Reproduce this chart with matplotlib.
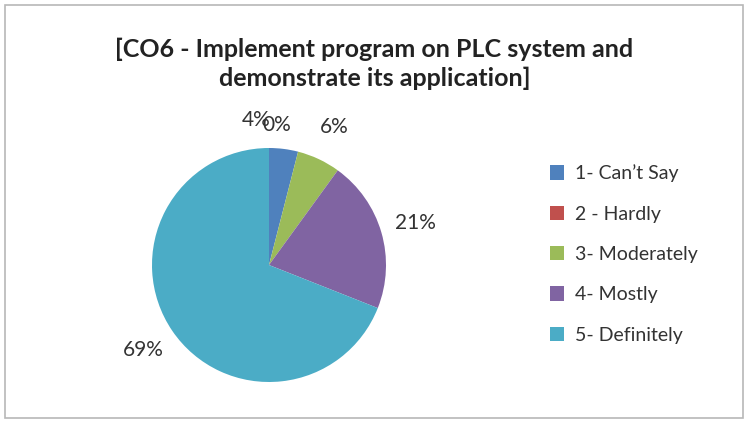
import numpy as np
import matplotlib.pyplot as plt
from matplotlib.patches import Rectangle

plt.rcParams['font.family'] = ['Lato', 'DejaVu Sans']

title = "[CO6 - Implement program on PLC system and\ndemonstrate its application]"
categories = ["1- Can\u2019t Say", "2 - Hardly", "3- Moderately", "4- Mostly", "5- Definitely"]
values = [4, 0, 6, 21, 69]
colors = ["#4F81BD", "#C0504D", "#9BBB59", "#8064A2", "#4BACC6"]

fig = plt.figure(figsize=(7.49, 4.23), dpi=100)

# chart border
fig.patches.append(Rectangle((5/749, 5/423), 738/749, 413/423, transform=fig.transFigure,
                             fill=False, edgecolor="#b8b8b8", linewidth=1.2))

fig.text(0.5, 1 - 64/423, title, ha="center", va="center", fontsize=18,
         fontweight="bold", color="#222222", linespacing=1.3)

cx, cy, r = 269, 265, 117
ax = fig.add_axes([(cx - r)/749, (423 - cy - r)/423, 2*r/749, 2*r/423])
wedges, texts, autotexts = ax.pie(values, colors=colors, startangle=90, counterclock=False,
                                  autopct=lambda p: f"{round(p)}%", pctdistance=1.3,
                                  wedgeprops=dict(linewidth=0),
                                  textprops=dict(fontsize=15, color="#333333"))
# excel crowds the two small labels together near the top
for t, ang, d in [(autotexts[0], 95, 1.24), (autotexts[1], 87, 1.2)]:
    t.set_position((d*np.cos(np.radians(ang)), d*np.sin(np.radians(ang))))
ax.set_xlim(-1, 1)
ax.set_ylim(-1, 1)
ax.set_aspect("equal")

leg = fig.legend(wedges, categories, loc="center left", bbox_to_anchor=(532/749, 1 - 254/423),
                 frameon=False, fontsize=14, handlelength=0.75, handleheight=0.75,
                 labelspacing=1.2, handletextpad=0.55, labelcolor="#333333")

fig.savefig("out.png", dpi=100)
